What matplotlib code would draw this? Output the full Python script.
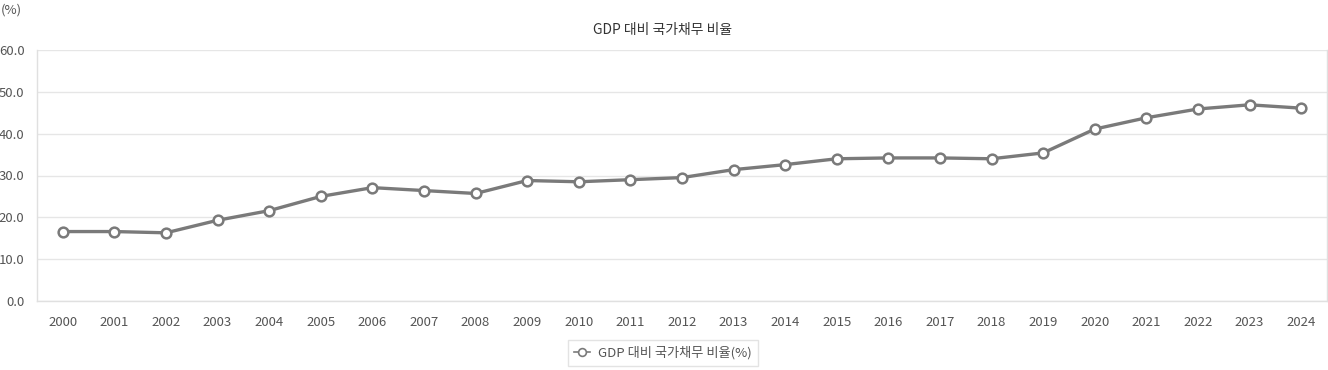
import matplotlib
matplotlib.use("Agg")
import matplotlib.pyplot as plt

plt.rcParams['font.family'] = ['Noto Sans CJK KR', 'DejaVu Sans']

years = [str(y) for y in range(2000, 2025)]
debt_ratio = [16.6, 16.6, 16.3, 19.3, 21.6, 25.0, 27.1, 26.4, 25.7, 28.8, 28.5, 29.0,
              29.5, 31.4, 32.6, 34.0, 34.2, 34.2, 34.0, 35.4, 41.1, 43.8, 45.9, 46.9, 46.1]
yticks = [0, 10, 20, 30, 40, 50, 60]
title = "GDP 대비 국가채무 비율"
series_label = "GDP 대비 국가채무 비율(%)"

W, H = 1328, 370
fig = plt.figure(figsize=(W / 100, H / 100), dpi=100)
ax = fig.add_axes([37 / W, (H - 301) / H, (1327 - 37) / W, (301 - 50) / H])

x = list(range(len(years)))
ax.plot(x, debt_ratio, color='#7a7a7a', lw=2.4, marker='o', ms=7,
        mfc='white', mec='#7a7a7a', mew=1.8, label=series_label, zorder=3)

ax.set_xlim(-0.5, len(years) - 0.5)
ax.set_ylim(0, 60)
ax.set_yticks(yticks)
ax.set_yticklabels([f"{v:.1f}" for v in yticks])
ax.set_xticks(x)
ax.set_xticklabels(years)
ax.grid(axis='y', color='#e6e6e6', lw=1)
ax.set_axisbelow(True)
ax.spines['top'].set_visible(False)
for s in ['left', 'right', 'bottom']:
    ax.spines[s].set_color('#e0e0e0')
    ax.spines[s].set_linewidth(1)
ax.tick_params(length=0, labelsize=9.5, colors='#555555')
for lab in ax.get_xticklabels() + ax.get_yticklabels():
    lab.set_fontweight('medium')
ax.tick_params(axis='x', pad=11)
ax.tick_params(axis='y', pad=9)

fig.text(663 / W, 1 - 30 / H, title, ha='center', va='center', fontsize=10,
         color='#333333', fontweight='medium')
fig.text(1 / W, 1 - 10 / H, "(%)", ha='left', va='center', fontsize=9.5,
         color='#555555', fontweight='medium')

leg = ax.legend(loc='center', bbox_to_anchor=(663 / W, 1 - 353 / H), bbox_transform=fig.transFigure,
                frameon=True, fontsize=9.5, handlelength=1.2, handletextpad=0.6,
                borderpad=0.5, borderaxespad=0, markerscale=0.8)
leg.get_frame().set_edgecolor('#dddddd')
leg.get_frame().set_linewidth(1)
leg.get_frame().set_boxstyle('square', pad=0)
for t in leg.get_texts():
    t.set_color('#555555')
    t.set_fontweight('medium')
for ln in leg.get_lines():
    ln.set_linewidth(1.2)
    ln.set_markeredgewidth(1.2)

fig.savefig("out.png", dpi=100, facecolor='white')
